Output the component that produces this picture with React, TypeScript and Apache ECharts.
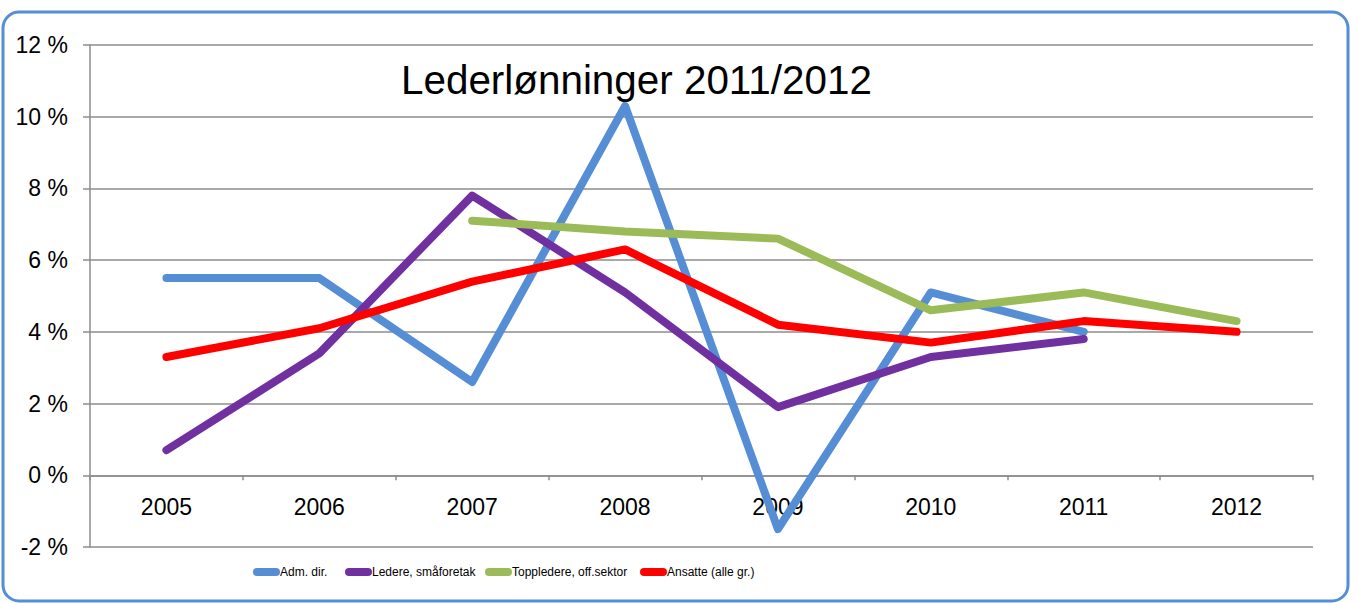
import React, { useEffect, useRef } from "react";
import * as echarts from "echarts";

const years = ["2005", "2006", "2007", "2008", "2009", "2010", "2011", "2012"];
const admDir = [5.5, 5.5, 2.6, 10.3, -1.5, 5.1, 4.0, null];
const ledereSma = [0.7, 3.4, 7.8, 5.1, 1.9, 3.3, 3.8, null];
const toppledere = [null, null, 7.1, 6.8, 6.6, 4.6, 5.1, 4.3];
const ansatte = [3.3, 4.1, 5.4, 6.3, 4.2, 3.7, 4.3, 4.0];
const seriesNames = ["Adm. dir.", "Ledere, småforetak", "Toppledere, off.sektor", "Ansatte (alle gr.)"];
const seriesColors = ["#558ED5", "#7030A0", "#9BBB59", "#FF0000"];
const legendLefts = [253, 345, 485, 640];
const titleText = "Lederlønninger 2011/2012";

export default function App() {
  const ref = useRef<HTMLDivElement>(null);
  useEffect(() => {
    if (!ref.current) return;
    const chart = echarts.init(ref.current, null, { renderer: "svg" });
    const data = [admDir, ledereSma, toppledere, ansatte];
    const font = "'Liberation Sans', Arial, sans-serif";
    chart.setOption({
      animation: false,
      backgroundColor: "#ffffff",
      title: {
        text: titleText,
        left: 401,
        top: 60,
        padding: 0,
        textStyle: { fontFamily: font, fontSize: 40.4, fontWeight: "normal", color: "#000" },
      },
      graphic: [
        {
          type: "rect",
          shape: { x: 3, y: 12, width: 1345, height: 589, r: 16 },
          style: { fill: "none", stroke: "#558ED5", lineWidth: 3 },
          silent: true,
        },
      ],
      legend: seriesNames.map((n, i) => ({
        left: legendLefts[i],
        top: 566,
        padding: 0,
        itemWidth: 27,
        itemHeight: 8,
        icon: "path://M4,0 L23,0 A4,4 0 0 1 23,8 L4,8 A4,4 0 0 1 4,0 Z",
        textStyle: {
          fontFamily: font,
          fontSize: 12,
          color: "#000",
          padding: [0, 0, 0, -5],
        },
        data: [n],
      })),
      grid: { left: 90, right: 45, top: 45, bottom: 56, containLabel: false },
      xAxis: {
        type: "category",
        data: years,
        boundaryGap: true,
        axisLine: { onZero: true, lineStyle: { color: "#8C8C8C", width: 1.5 } },
        axisTick: { show: true, length: 5, alignWithLabel: false, lineStyle: { color: "#8C8C8C", width: 1.5 } },
        axisLabel: { fontFamily: font, fontSize: 23, color: "#000", margin: -52 },
      },
      yAxis: {
        type: "value",
        min: -2,
        max: 12,
        interval: 2,
        axisLine: { show: true, lineStyle: { color: "#8C8C8C", width: 1.5 } },
        axisTick: { show: true, length: 7, lineStyle: { color: "#8C8C8C", width: 1.5 } },
        axisLabel: { fontFamily: font, fontSize: 23, color: "#000", margin: 22, formatter: (v: number) => `${v} %` },
        splitLine: { show: true, lineStyle: { color: "#8C8C8C", width: 1.5 } },
      },
      series: data.map((d, i) => ({
        name: seriesNames[i],
        type: "line",
        data: d,
        showSymbol: false,
        symbol: "none",
        connectNulls: false,
        color: seriesColors[i],
        lineStyle: { color: seriesColors[i], width: 8, cap: "round", join: "round" },
      })),
    });
    return () => chart.dispose();
  }, []);
  return <div ref={ref} style={{ position: "absolute", left: 0, top: 0, width: 1358, height: 603 }} />;
}
